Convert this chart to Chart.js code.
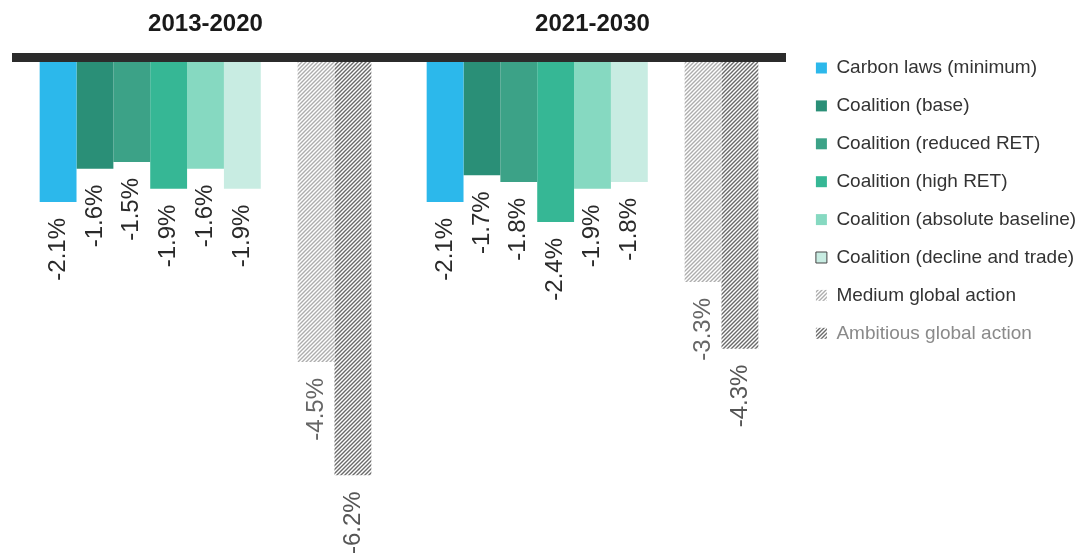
<!DOCTYPE html>
<html>
<head>
<meta charset="utf-8">
<script src="https://cdn.jsdelivr.net/npm/chart.js@4/dist/chart.umd.min.js"></script>
<style>
  html, body { margin: 0; padding: 0; background: #fff; }
</style>
</head>
<body>
<canvas id="grafico" width="1084" height="558"></canvas>
<script>
// Periodos e cenarios
const periodos = ['2013-2020', '2021-2030'];
const cenarios = ['Carbon laws (minimum)', 'Coalition (base)', 'Coalition (reduced RET)', 'Coalition (high RET)',
  'Coalition (absolute baseline)', 'Coalition (decline and trade)', 'Medium global action', 'Ambitious global action'];

// Variacao anual (%) por cenario
const carbonLaws = [-2.1, -2.1];
const coalBase = [-1.6, -1.7];
const coalReduced = [-1.5, -1.8];
const coalHigh = [-1.9, -2.4];
const coalAbsolute = [-1.6, -1.9];
const coalDecline = [-1.9, -1.8];
const mediumGlobal = [-4.5, -3.3];
const ambitiousGlobal = [-6.2, -4.3];

const fonte = '"Liberation Sans", Arial, Helvetica, sans-serif';

// Hachura diagonal para os cenarios globais
function hachura(cor) {
  const c = document.createElement('canvas');
  c.width = 4; c.height = 4;
  const g = c.getContext('2d');
  g.fillStyle = '#ffffff';
  g.fillRect(0, 0, 4, 4);
  g.strokeStyle = cor;
  g.lineWidth = 1.4;
  g.beginPath();
  g.moveTo(-1, 5); g.lineTo(5, -1);
  g.moveTo(-1, 1); g.lineTo(1, -1);
  g.moveTo(3, 5); g.lineTo(5, 3);
  g.stroke();
  return g.createPattern(c, 'repeat');
}

const padraoMedio = hachura('#adadad');
const padraoAmbicioso = hachura('#6a6a6a');

// Linha preta grossa no zero
const linhaZero = {
  id: 'linhaZero',
  afterDatasetsDraw(chart) {
    const { ctx, chartArea } = chart;
    ctx.save();
    ctx.fillStyle = '#2b2b2b';
    ctx.fillRect(chartArea.left, chartArea.top - 9, chartArea.right - chartArea.left, 9);
    ctx.restore();
  }
};

// Rotulos verticais abaixo de cada barra
const rotulos = {
  id: 'rotulos',
  afterDatasetsDraw(chart) {
    const ctx = chart.ctx;
    chart.data.datasets.forEach((ds, i) => {
      if (!ds.label) return;
      const meta = chart.getDatasetMeta(i);
      meta.data.forEach((barra, j) => {
        const v = ds.data[j];
        if (v === null) return;
        ctx.save();
        ctx.translate(barra.x, barra.y + 16);
        ctx.rotate(-Math.PI / 2);
        ctx.font = '24px ' + fonte;
        ctx.fillStyle = ds.corRotulo;
        ctx.textAlign = 'right';
        ctx.textBaseline = 'middle';
        ctx.fillText(v.toFixed(1) + '%', 0, 0);
        ctx.restore();
      });
    });
  }
};

const ctx = document.getElementById('grafico').getContext('2d');
const grafico = new Chart(ctx, {
  type: 'bar',
  data: {
    labels: periodos,
    datasets: [
      { label: cenarios[0], data: carbonLaws, backgroundColor: '#2cb8eb', corRotulo: '#2a2a2a' },
      { label: cenarios[1], data: coalBase, backgroundColor: '#2a8f77', corRotulo: '#2a2a2a' },
      { label: cenarios[2], data: coalReduced, backgroundColor: '#3ca287', corRotulo: '#2a2a2a' },
      { label: cenarios[3], data: coalHigh, backgroundColor: '#36b795', corRotulo: '#2a2a2a' },
      { label: cenarios[4], data: coalAbsolute, backgroundColor: '#86d9c1', corRotulo: '#2a2a2a' },
      { label: cenarios[5], data: coalDecline, backgroundColor: '#c8ece2', corRotulo: '#2a2a2a' },
      { label: '', data: [null, null], backgroundColor: 'rgba(0,0,0,0)' }, // espaco vazio
      { label: cenarios[6], data: mediumGlobal, backgroundColor: padraoMedio, corRotulo: '#666666' },
      { label: cenarios[7], data: ambitiousGlobal, backgroundColor: padraoAmbicioso, corRotulo: '#555555' }
    ]
  },
  options: {
    responsive: false,
    animation: false,
    devicePixelRatio: 1,
    categoryPercentage: 0.857,
    barPercentage: 1.0,
    layout: { padding: { left: 12, right: 0, top: 11, bottom: 0 } },
    scales: {
      x: {
        position: 'top',
        grid: { display: false, drawTicks: false },
        border: { display: false },
        ticks: { color: '#1a1a1a', padding: 23, font: { family: fonte, size: 24, weight: 'bold' } },
        afterFit(scale) { scale.height = 51; }
      },
      y: {
        position: 'right',
        min: -7.44,
        max: 0,
        grid: { display: false, drawTicks: false },
        border: { display: false },
        ticks: { display: false },
        afterFit(scale) { scale.width = 11; }
      }
    },
    plugins: {
      tooltip: { enabled: false },
      legend: {
        position: 'right',
        align: 'start',
        maxWidth: 287,
        title: { display: true, text: '', font: { size: 10 }, padding: { top: 0, bottom: 16.6 } },
        labels: {
          boxWidth: 11,
          boxHeight: 11,
          padding: 18.9,
          color: '#333333',
          font: { family: fonte, size: 19 },
          generateLabels(chart) {
            const itens = Chart.defaults.plugins.legend.labels.generateLabels(chart);
            return itens.filter(it => it.text !== '').map(it => {
              it.lineWidth = 0;
              if (it.text === cenarios[5]) { it.lineWidth = 1; it.strokeStyle = '#444444'; }
              if (it.text === cenarios[7]) { it.fontColor = '#8a8a8a'; }
              return it;
            });
          }
        }
      }
    }
  },
  plugins: [linhaZero, rotulos]
});
</script>
</body>
</html>
